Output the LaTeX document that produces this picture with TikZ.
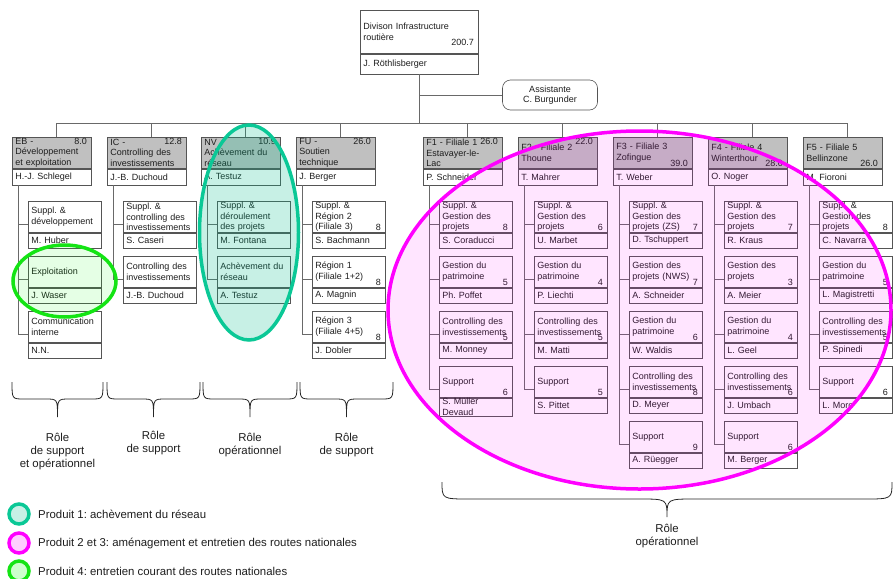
\documentclass[tikz,border=0pt]{standalone}
\usepackage{fontspec}
\setmainfont{Liberation Sans}
\definecolor{boxc}{RGB}{85,85,85}
\definecolor{linec}{RGB}{105,105,105}
\definecolor{hdrgray}{RGB}{192,192,192}
\definecolor{txtc}{RGB}{30,30,30}
\definecolor{tealc}{RGB}{10,200,150}
\definecolor{tealf}{RGB}{0,190,140}
\definecolor{tealL}{RGB}{200,240,230}
\definecolor{pinkc}{RGB}{255,0,255}
\definecolor{pinkL}{RGB}{255,205,255}
\definecolor{greenc}{RGB}{20,228,20}
\definecolor{greenf}{RGB}{0,255,0}
\definecolor{greenL}{RGB}{205,255,205}
\newcommand\fs{\fontsize{9}{10.5}\selectfont\frenchspacing}
\newcommand\fl{\fontsize{11.4}{13}\selectfont\frenchspacing}
\tikzset{
  box/.style={draw=boxc, line width=0.6pt, inner xsep=3pt, inner ysep=0.5pt,
    align=left, font=\fs, anchor=north west, text=txtc},
  colhdr/.style={box, fill=hdrgray, text width=73pt, minimum height=31pt},
  colname/.style={box, fill=white, text width=73pt, minimum height=16pt},
  subhdr/.style={box, fill=white, text width=67pt, minimum height=31pt},
  subname/.style={box, fill=white, text width=67pt, minimum height=15.5pt},
  num/.style={font=\fs, inner sep=0pt, text=txtc},
  conn/.style={draw=linec, line width=0.6pt},
  bracel/.style={draw=black!85, line width=0.8pt},
  lbl/.style={font=\fl, align=center, inner sep=0pt, anchor=north, text=txtc},
  leg/.style={font=\fl, inner sep=0pt, anchor=west, text=txtc},
  ring/.style={line width=3.5pt},
}
% column header box: name, x, text, person
\newcommand\ColB[4]{%
  \node[colhdr] (#1) at (#2,137) {#3};
  \node[colname] (#1n) at (#1.south west) {#4};
  \draw[conn] ([xshift=4.5pt]#1.north) -- ([xshift=4.5pt]#1.north |- busy);
}
\newcommand\NumTop[2]{\node[num, anchor=north east] at ([xshift=-4.5pt,yshift=-1.2pt]#1.north east) {#2};}
\newcommand\NumBot[2]{\node[num, anchor=base east] at ([xshift=-4.5pt,yshift=1.8pt]#1.south east) {#2};}
% sub box: name, column, x, y, text, number, person
\newcommand\SubB[7]{%
  \node[subhdr] (#1) at (#3,#4) {#5};
  \node[subname] (#1n) at (#1.south west) {#7};
  \node[num, anchor=base east] at ([xshift=-4.5pt,yshift=2pt]#1.south east) {#6};
  \draw[conn] ([xshift=6pt]#2n.south west) |- ([yshift=-7.5pt]#1.west);
}
% brace: xa, xb, y0, y1, y2, w
\newcommand\OrgBrace[6]{%
  \pgfmathsetmacro\bxm{(#1+#2)/2}%
  \draw[bracel] (#1,#3) .. controls (#1,#4) .. (#1+#6,#4) -- (\bxm-#6,#4)
    .. controls (\bxm,#4) .. (\bxm,#5) .. controls (\bxm,#4) .. (\bxm+#6,#4)
    -- (#2-#6,#4) .. controls (#2,#4) .. (#2,#3);
}
\begin{document}
\frenchspacing
\begin{tikzpicture}[x=1pt,y=-1pt]
\useasboundingbox (0,0) rectangle (893,578);
\fill[white] (0,0) rectangle (893,578);
\coordinate (busy) at (0,123);

% top box
\node[box, fill=white, text width=112pt, minimum height=43pt] (TOP) at (360,10) {Divison Infrastructure\\routière};
\node[box, fill=white, text width=112pt, minimum height=20pt] (TOPn) at (TOP.south west) {J. Röthlisberger};
\node[num, anchor=base east] at ([xshift=-4.5pt,yshift=8pt]TOP.south east) {200.7};
\node[draw=boxc, line width=0.6pt, rounded corners=8pt, minimum width=95pt, minimum height=30pt,
  align=center, font=\fs, text=txtc, fill=white, inner sep=0pt] (AS) at (550,95) {Assistante\\C. Burgunder};
\draw[conn] (TOPn.south) -- (TOPn.south |- busy);
\draw[conn] (AS.west) -- (AS.west -| TOPn.south);

% columns
\ColB{EB}{12}{EB -\\Développement\\et exploitation}{H.-J. Schlegel}
\ColB{IC}{107}{IC -\\Controlling des\\investissements}{J.-B. Duchoud}
\ColB{NV}{201}{NV -\\Achèvement du\\réseau}{A. Testuz}
\ColB{FU}{296}{FU -\\Soutien\\technique}{J. Berger}
\ColB{FA}{423}{F1 - Filiale 1\\Estavayer-le-\\Lac}{P. Schneider}
\ColB{FB}{518}{F2 - Filiale 2\\Thoune}{T. Mahrer}
\ColB{FC}{613}{F3 - Filiale 3\\Zofingue}{T. Weber}
\ColB{FD}{708}{F4 - Filiale 4\\Winterthour}{O. Noger}
\ColB{FE}{803}{F5 - Filiale 5\\Bellinzone}{M. Fioroni}
\draw[conn] ([xshift=4.5pt]EB.north |- busy) -- ([xshift=4.5pt]FE.north |- busy);
\NumTop{EB}{8.0}
\NumTop{IC}{12.8}
\NumTop{NV}{10.9}
\NumTop{FU}{26.0}
\NumTop{FA}{26.0}
\NumTop{FB}{22.0}
\NumBot{FC}{39.0}
\NumBot{FD}{28.0}
\NumBot{FE}{26.0}

% sub boxes
\SubB{EB1}{EB}{28}{201}{Suppl. \&\\développement}{}{M. Huber}
\SubB{EB2}{EB}{28}{256}{Exploitation}{}{J. Waser}
\SubB{EB3}{EB}{28}{311}{Communication\\interne}{}{N.N.}

\SubB{IC1}{IC}{123}{201}{Suppl. \&\\controlling des\\investissements}{}{S. Caseri}
\SubB{IC2}{IC}{123}{256}{Controlling des\\investissements}{}{J.-B. Duchoud}

\SubB{NV1}{NV}{217}{201}{Suppl. \&\\déroulement\\des projets}{}{M. Fontana}
\SubB{NV2}{NV}{217}{256}{Achèvement du\\réseau}{}{A. Testuz}

\SubB{FU1}{FU}{312}{201}{Suppl. \&\\Région 2\\(Filiale 3)}{8}{S. Bachmann}
\SubB{FU2}{FU}{312}{256}{Région 1\\(Filiale 1+2)}{8}{A. Magnin}
\SubB{FU3}{FU}{312}{311}{Région 3\\(Filiale 4+5)}{8}{J. Dobler}

\SubB{FA1}{FA}{439}{201}{Suppl. \&\\Gestion des\\projets}{8}{S. Coraducci}
\SubB{FA2}{FA}{439}{256}{Gestion du\\patrimoine}{5}{Ph. Poffet}
\SubB{FA3}{FA}{439}{311}{Controlling des\\investissements}{5}{M. Monney}
\SubB{FA4}{FA}{439}{366}{Support}{6}{S. Müller\\Devaud}

\SubB{FB1}{FB}{534}{201}{Suppl. \&\\Gestion des\\projets}{6}{U. Marbet}
\SubB{FB2}{FB}{534}{256}{Gestion du\\patrimoine}{4}{P. Liechti}
\SubB{FB3}{FB}{534}{311}{Controlling des\\investissements}{5}{M. Matti}
\SubB{FB4}{FB}{534}{366}{Support}{5}{S. Pittet}

\SubB{FC1}{FC}{629}{201}{Suppl. \&\\Gestion des\\projets (ZS)}{7}{D. Tschuppert}
\SubB{FC2}{FC}{629}{256}{Gestion des\\projets (NWS)}{7}{A. Schneider}
\SubB{FC3}{FC}{629}{311}{Gestion du\\patrimoine}{6}{W. Waldis}
\SubB{FC4}{FC}{629}{366}{Controlling des\\investissements}{8}{D. Meyer}
\SubB{FC5}{FC}{629}{421}{Support}{9}{A. Rüegger}

\SubB{FD1}{FD}{724}{201}{Suppl. \&\\Gestion des\\projets}{7}{R. Kraus}
\SubB{FD2}{FD}{724}{256}{Gestion des\\projets}{3}{A. Meier}
\SubB{FD3}{FD}{724}{311}{Gestion du\\patrimoine}{4}{L. Geel}
\SubB{FD4}{FD}{724}{366}{Controlling des\\investissements}{6}{J. Umbach}
\SubB{FD5}{FD}{724}{421}{Support}{6}{M. Berger}

\SubB{FE1}{FE}{819}{201}{Suppl. \&\\Gestion des\\projets}{8}{C. Navarra}
\SubB{FE2}{FE}{819}{256}{Gestion du\\patrimoine}{5}{L. Magistretti}
\SubB{FE3}{FE}{819}{311}{Controlling des\\investissements}{5}{P. Spinedi}
\SubB{FE4}{FE}{819}{366}{Support}{6}{L. Moro}

% product ellipses
\fill[tealf, fill opacity=0.22] (249,232.5) ellipse[x radius=49.5, y radius=107.5];
\draw[tealc, line width=3.5pt] (249,232.5) ellipse[x radius=49.5, y radius=107.5];
\fill[greenf, fill opacity=0.1] (64.5,281) ellipse[x radius=51.5, y radius=36];
\draw[greenc, line width=3.5pt] (64.5,281) ellipse[x radius=51.5, y radius=36];
\fill[pinkc, fill opacity=0.1] (639.5,310) ellipse[x radius=251.5, y radius=179];
\draw[pinkc, line width=3.5pt] (639.5,310) ellipse[x radius=251.5, y radius=179];

% braces and roles
\OrgBrace{12}{103}{382}{399}{417}{12}
\OrgBrace{107}{200}{382}{399}{417}{12}
\OrgBrace{203}{297}{382}{399}{417}{12}
\OrgBrace{300}{393}{382}{399}{417}{12}
\OrgBrace{442}{892}{482}{499}{517}{28}
\node[lbl] (R1) at (57.5,433) {Rôle\\de support\\et opérationnel};
\node[lbl] (R2) at (153.5,431) {Rôle\\de support};
\node[lbl] (R3) at (250,433) {Rôle\\opérationnel};
\node[lbl] (R4) at (346.5,433) {Rôle\\de support};
\node[lbl] (R5) at (667,524) {Rôle\\opérationnel};

% legend
\draw[ring, draw=tealc, fill=tealL] (19,514) circle[radius=10];
\draw[ring, draw=pinkc, fill=pinkL] (19,543) circle[radius=10];
\draw[ring, draw=greenc, fill=greenL] (19,571) circle[radius=10];
\node[leg] (L1) at (38,514) {Produit 1: achèvement du réseau};
\node[leg] (L2) at (38,543) {Produit 2 et 3: aménagement et entretien des routes nationales};
\node[leg] (L3) at (38,571) {Produit 4: entretien courant des routes nationales};
\end{tikzpicture}
\end{document}
